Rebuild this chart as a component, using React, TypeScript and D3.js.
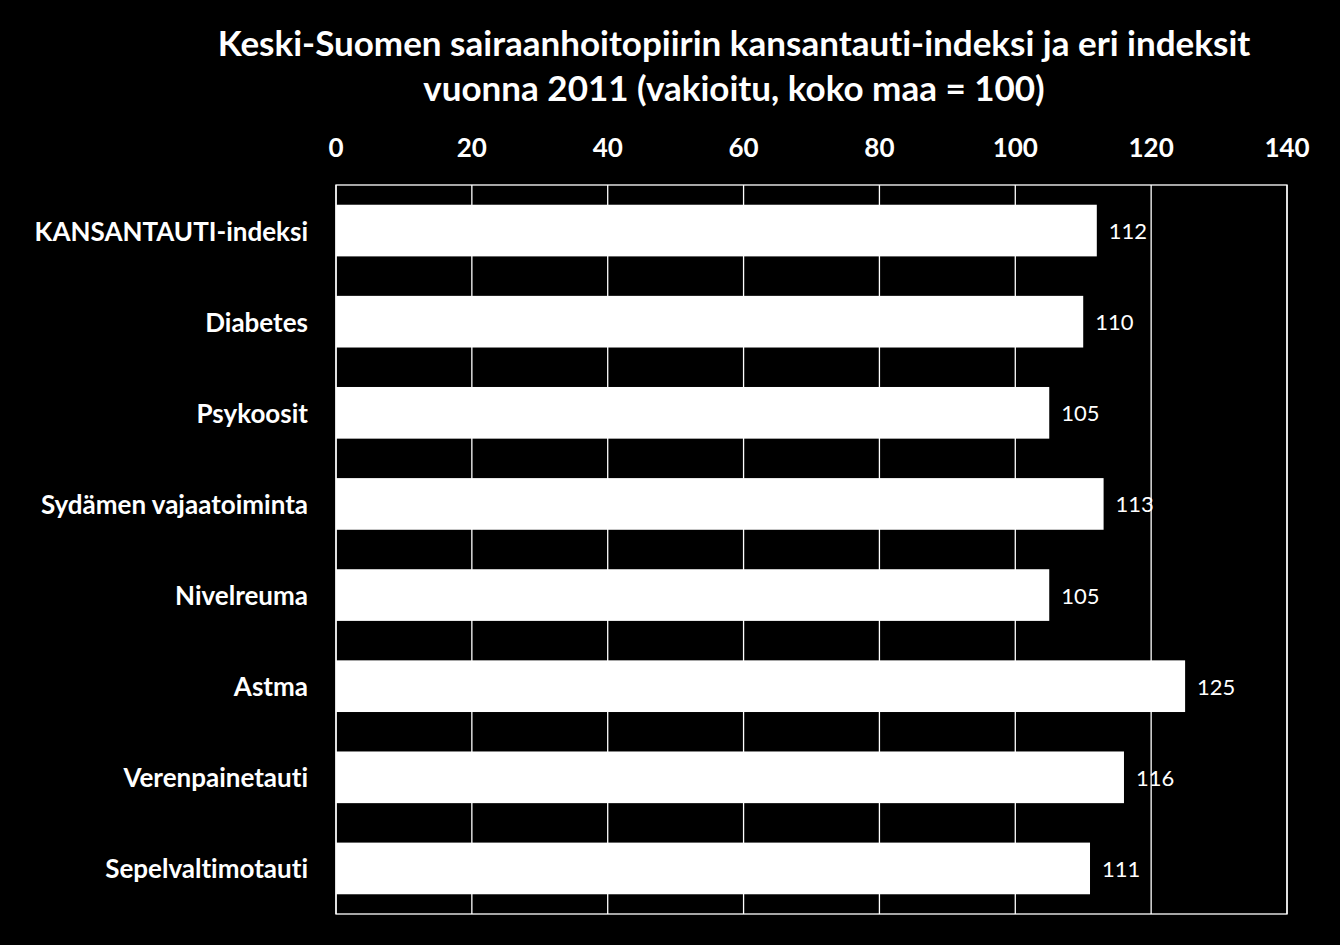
import React from "react";
import * as d3 from "d3";

const categories = [
  "KANSANTAUTI-indeksi",
  "Diabetes",
  "Psykoosit",
  "Sydämen vajaatoiminta",
  "Nivelreuma",
  "Astma",
  "Verenpainetauti",
  "Sepelvaltimotauti",
];
const values = [112, 110, 105, 113, 105, 125, 116, 111];
const ticks = [0, 20, 40, 60, 80, 100, 120, 140];
const titleLines = [
  "Keski-Suomen sairaanhoitopiirin kansantauti-indeksi ja eri indeksit",
  "vuonna 2011 (vakioitu, koko maa = 100)",
];

const W = 1340;
const H = 945;
const M = { left: 336, top: 185, right: 1287, bottom: 914 };
const FONT = "Lato, 'Open Sans', sans-serif";

export default function App() {
  const x = d3.scaleLinear().domain([0, 140]).range([M.left, M.right]);
  const y = d3
    .scaleBand<string>()
    .domain(categories)
    .range([M.top, M.bottom])
    .paddingInner(0.433)
    .paddingOuter(0.2165);

  return (
    <svg
      width={W}
      height={H}
      style={{
        position: "absolute",
        left: 0,
        top: 0,
        background: "#000",
        fontVariantLigatures: "none",
      }}
    >
      <rect x={0} y={0} width={W} height={H} fill="#000" />
      {titleLines.map((t, i) => (
        <text
          key={i}
          x={734}
          y={56 + i * 45}
          textAnchor="middle"
          fill="#fff"
          fontFamily={FONT}
          fontWeight="bold"
          fontSize={35}
        >
          {t}
        </text>
      ))}
      {ticks.map((t) => (
        <g key={t}>
          <line
            x1={x(t)}
            x2={x(t)}
            y1={M.top}
            y2={M.bottom}
            stroke="#fff"
            strokeWidth={1.3}
          />
          <text
            x={x(t)}
            y={157}
            textAnchor="middle"
            fill="#fff"
            fontFamily={FONT}
            fontWeight="bold"
            fontSize={26}
          >
            {t}
          </text>
        </g>
      ))}
      <rect
        x={M.left}
        y={M.top}
        width={M.right - M.left}
        height={M.bottom - M.top}
        fill="none"
        stroke="#fff"
        strokeWidth={1.3}
      />
      {categories.map((c, i) => {
        const yy = y(c)!;
        const bh = y.bandwidth();
        return (
          <g key={c}>
            <rect
              x={x(0)}
              y={yy}
              width={x(values[i]) - x(0)}
              height={bh}
              fill="#fff"
            />
            <text
              x={x(values[i]) + 12}
              y={yy + bh / 2}
              dominantBaseline="central"
              fill="#fff"
              fontFamily={FONT}
              fontSize={22}
            >
              {values[i]}
            </text>
            <text
              x={308}
              y={yy + bh / 2}
              dominantBaseline="central"
              textAnchor="end"
              fill="#fff"
              fontFamily={FONT}
              fontWeight="bold"
              fontSize={26}
            >
              {c}
            </text>
          </g>
        );
      })}
    </svg>
  );
}
